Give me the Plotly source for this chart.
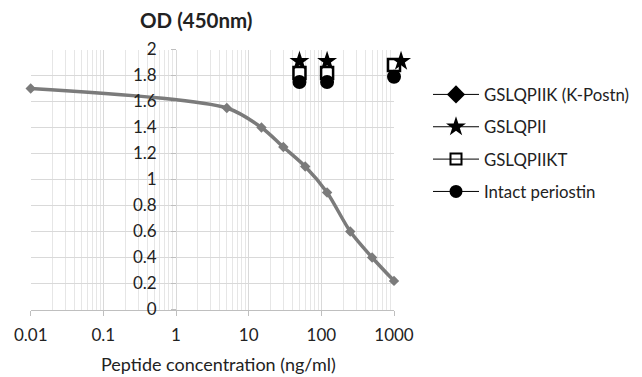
import plotly.graph_objects as go

# Data
conc_kpostn = [0.01, 5, 15, 30, 60, 120, 250, 500, 1000]
od_kpostn = [1.70, 1.55, 1.40, 1.25, 1.10, 0.90, 0.60, 0.40, 0.22]

conc_gslqpii = [50, 120, 1250]
od_gslqpii = [1.91, 1.91, 1.91]

conc_gslqpiikt = [50, 120, 1000]
od_gslqpiikt = [1.82, 1.82, 1.88]

conc_intact = [50, 120, 1000]
od_intact = [1.75, 1.75, 1.79]

x_ticks = [0.01, 0.1, 1, 10, 100, 1000]
x_ticklabels = ["0.01", "0.1", "1", "10", "100", "1000"]
y_ticks = [0, 0.2, 0.4, 0.6, 0.8, 1, 1.2, 1.4, 1.6, 1.8, 2]
y_ticklabels = ["0", "0.2", "0.4", "0.6", "0.8", "1", "1.2", "1.4", "1.6", "1.8", "2"]

W, H = 642, 377
FONT = "Lato, 'Open Sans', sans-serif"
GRID = "#d9d9d9"
MINOR = "#e6e6e6"
TXT = "#222222"

x0_px, x1_px = 30.7, 394.0
y0_px, y1_px = 309.5, 49.5
px_per_decade = (x1_px - x0_px) / 5.0
xdom = [x0_px / W, x1_px / W]
ydom = [1 - y0_px / H, 1 - y1_px / H]
yaxis_pos = xdom[0] + 0.4 * (xdom[1] - xdom[0])
# wider overlay subplot (same scale) so markers just beyond 1000 are still drawn
ext_decades = 5.3
xdom2 = [x0_px / W, (x0_px + px_per_decade * ext_decades) / W]

minor_vals = [d * m for d in [0.01, 0.1, 1, 10, 100] for m in range(2, 10)]

fig = go.Figure()

# Main curve
fig.add_trace(go.Scatter(
    x=conc_kpostn, y=od_kpostn, mode="lines+markers",
    line=dict(color="#7b7b7b", width=3.5, shape="spline", smoothing=0.8),
    marker=dict(symbol="diamond", size=8, color="#7b7b7b"),
    showlegend=False, cliponaxis=False,
))
fig.add_trace(go.Scatter(
    x=conc_gslqpiikt, y=od_gslqpiikt, mode="markers",
    marker=dict(symbol="square", size=12, color="white", line=dict(color="black", width=2.5)),
    showlegend=False, cliponaxis=False, xaxis="x2", yaxis="y2",
))
fig.add_trace(go.Scatter(
    x=conc_intact, y=od_intact, mode="markers",
    marker=dict(symbol="circle", size=14, color="black"),
    showlegend=False, cliponaxis=False, xaxis="x2", yaxis="y2",
))
fig.add_trace(go.Scatter(
    x=conc_gslqpii, y=od_gslqpii, mode="markers",
    marker=dict(symbol="star", size=15, color="black"),
    showlegend=False, cliponaxis=False, xaxis="x2", yaxis="y2",
))

# Legend entries
legend_items = [
    ("GSLQPIIK (K-Postn)", dict(symbol="diamond", size=14, color="black")),
    ("GSLQPII", dict(symbol="star", size=15, color="black")),
    ("GSLQPIIKT", dict(symbol="square-open", size=11, color="black", line=dict(width=2))),
    ("Intact periostin", dict(symbol="circle", size=13, color="black")),
]
for i, (name, mk) in enumerate(legend_items):
    fig.add_trace(go.Scatter(
        x=[None], y=[None], mode="lines+markers", name=name,
        line=dict(color="black", width=1), marker=mk, legendgroup=f"g{i}",
    ))

fig.update_layout(
    width=W, height=H,
    margin=dict(l=0, r=0, t=0, b=0),
    paper_bgcolor="white", plot_bgcolor="rgba(0,0,0,0)",
    font=dict(family=FONT, size=16, color=TXT),
    xaxis=dict(
        type="log", range=[-2, 3], domain=xdom,
        tickvals=x_ticks, ticktext=x_ticklabels,
        showgrid=True, gridcolor=GRID, gridwidth=1,
        ticks="outside", ticklen=5, tickcolor="#bfbfbf",
        ticklabelstandoff=5,
        showline=True, linecolor="#bfbfbf", zeroline=False,
        minor=dict(tickvals=minor_vals, showgrid=True, gridcolor=MINOR, ticks=""),
        automargin=False,
        tickfont=dict(size=17),
    ),
    yaxis=dict(
        range=[0, 2], domain=ydom, anchor="free", position=yaxis_pos,
        tickvals=y_ticks, ticktext=y_ticklabels,
        showgrid=True, gridcolor=GRID, gridwidth=1,
        ticks="outside", ticklen=5, tickcolor="#bfbfbf",
        ticklabelstandoff=11,
        showline=False, zeroline=False, automargin=False,
        tickfont=dict(size=17),
    ),
    xaxis2=dict(
        type="log", range=[-2, -2 + ext_decades], domain=xdom2, anchor="y2",
        visible=False, showgrid=False, zeroline=False,
    ),
    yaxis2=dict(
        range=[0, 2], domain=ydom, anchor="x2",
        visible=False, showgrid=False, zeroline=False,
    ),
    legend=dict(
        x=428 / W, y=1 - 77 / H, xanchor="left", yanchor="top",
        font=dict(size=16.8, color=TXT), tracegroupgap=7.5,
        bgcolor="rgba(0,0,0,0)", itemwidth=46,
    ),
    annotations=[
        dict(text="<b>OD (450nm)</b>", x=196 / W, y=1 - 20 / H, xref="paper", yref="paper",
             showarrow=False, font=dict(size=20.5, color=TXT), xanchor="center", yanchor="middle"),
        dict(text="Peptide concentration (ng/ml)", x=218 / W, y=1 - 364 / H, xref="paper", yref="paper",
             showarrow=False, font=dict(size=18, color=TXT), xanchor="center", yanchor="middle"),
    ],
)

fig.write_html("out.html", config={"displayModeBar": False})

# remove the default page margin so the figure fills the window exactly
with open("out.html", "r", encoding="utf-8") as f:
    html = f.read()
html = html.replace("<head>", "<head><style>html,body{margin:0;padding:0;overflow:hidden;}</style>", 1)
with open("out.html", "w", encoding="utf-8") as f:
    f.write(html)
